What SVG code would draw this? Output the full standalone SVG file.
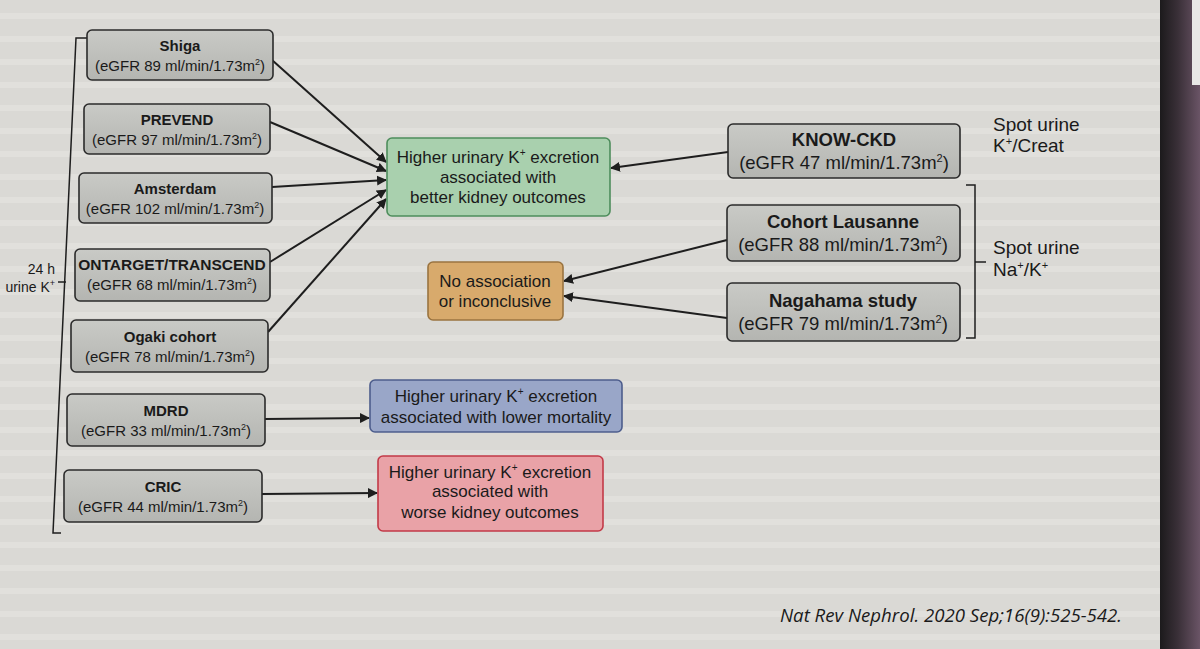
<svg xmlns="http://www.w3.org/2000/svg" width="1200" height="649" viewBox="0 0 1200 649">
<defs>
<style>
.t{font-family:"Liberation Sans",Arial,sans-serif;font-size:15px;fill:#1a1a1a;text-anchor:middle}
.o{font-size:17px}
.r{font-size:18.5px}
.b{font-weight:bold}
.l{font-family:"Liberation Sans",Arial,sans-serif;font-size:19px;fill:#1a1a1a}
.gray{fill:url(#gg);stroke:#2b2b2b;stroke-width:1.6}
.edge{stroke:#1e1e1e;stroke-width:2;fill:none;marker-end:url(#ah)}
.br{stroke:#1e1e1e;stroke-width:1.5;fill:none}
</style>
<linearGradient id="gg" x1="0" y1="0" x2="0" y2="1"><stop offset="0" stop-color="#c9cac6"/><stop offset="1" stop-color="#b4b5b1"/></linearGradient>
<linearGradient id="dark" x1="0" y1="0" x2="1" y2="0"><stop offset="0" stop-color="#1c1a1c"/><stop offset="0.45" stop-color="#3a3038"/><stop offset="1" stop-color="#6a5466"/></linearGradient>
<pattern id="stripes" width="20" height="23" patternUnits="userSpaceOnUse"><rect width="20" height="23" fill="#dad9d5"/><rect y="13" width="20" height="6" fill="#e1e0dc"/></pattern>
<marker id="ah" viewBox="0 0 10 10" refX="9" refY="5" markerWidth="5" markerHeight="5" orient="auto"><path d="M0,0 L10,5 L0,10 z" fill="#1e1e1e"/></marker>
</defs>
<rect width="1200" height="649" fill="url(#stripes)"/>
<rect x="1160" y="0" width="40" height="649" fill="url(#dark)"/>
<rect x="1192" y="0" width="8" height="85" fill="#e8e8e6"/>

<g id="bracket-left">
<path class="br" d="M88,38 L76,38 L53,533 L61,533"/>
<path class="br" d="M58,282 L66,282"/>
<text class="l" x="55" y="274" text-anchor="end" style="font-size:14px">24 h</text>
<text class="l" x="55" y="292" text-anchor="end" style="font-size:14px">urine K<tspan font-size="9" dy="-6">+</tspan></text>
</g>

<g id="connectors">
<line class="edge" x1="272" y1="60" x2="386" y2="162"/>
<line class="edge" x1="270" y1="122" x2="386" y2="171"/>
<line class="edge" x1="272" y1="187" x2="386" y2="180"/>
<line class="edge" x1="270" y1="262" x2="386" y2="190"/>
<line class="edge" x1="268" y1="332" x2="386" y2="199"/>
<line class="edge" x1="728" y1="152" x2="611" y2="168"/>
<line class="edge" x1="727" y1="240" x2="564" y2="281"/>
<line class="edge" x1="727" y1="318" x2="564" y2="296"/>
<line class="edge" x1="265" y1="419" x2="369" y2="418"/>
<line class="edge" x1="262" y1="494" x2="377" y2="493"/>
</g>

<g id="shiga">
<rect class="gray" x="87" y="30" width="186" height="50" rx="5"/>
<text class="t b" x="180" y="51">Shiga</text>
<text class="t" x="180" y="71">(eGFR 89 ml/min/1.73m<tspan font-size="9" dy="-6">2</tspan><tspan dy="6">)</tspan></text>
</g>
<g id="prevend">
<rect class="gray" x="84" y="104" width="186" height="50" rx="5"/>
<text class="t b" x="177" y="125">PREVEND</text>
<text class="t" x="177" y="145">(eGFR 97 ml/min/1.73m<tspan font-size="9" dy="-6">2</tspan><tspan dy="6">)</tspan></text>
</g>
<g id="amsterdam">
<rect class="gray" x="79" y="173" width="193" height="50" rx="5"/>
<text class="t b" x="175" y="194">Amsterdam</text>
<text class="t" x="175" y="214">(eGFR 102 ml/min/1.73m<tspan font-size="9" dy="-6">2</tspan><tspan dy="6">)</tspan></text>
</g>
<g id="ontarget">
<rect class="gray" x="75" y="249" width="195" height="52" rx="5"/>
<text class="t b" x="172" y="270" style="font-size:15.5px">ONTARGET/TRANSCEND</text>
<text class="t" x="172" y="290">(eGFR 68 ml/min/1.73m<tspan font-size="9" dy="-6">2</tspan><tspan dy="6">)</tspan></text>
</g>
<g id="ogaki">
<rect class="gray" x="71" y="320" width="197" height="52" rx="5"/>
<text class="t b" x="170" y="342">Ogaki cohort</text>
<text class="t" x="170" y="362">(eGFR 78 ml/min/1.73m<tspan font-size="9" dy="-6">2</tspan><tspan dy="6">)</tspan></text>
</g>
<g id="mdrd">
<rect class="gray" x="67" y="394" width="198" height="52" rx="5"/>
<text class="t b" x="166" y="416">MDRD</text>
<text class="t" x="166" y="436">(eGFR 33 ml/min/1.73m<tspan font-size="9" dy="-6">2</tspan><tspan dy="6">)</tspan></text>
</g>
<g id="cric">
<rect class="gray" x="64" y="470" width="198" height="52" rx="5"/>
<text class="t b" x="163" y="492">CRIC</text>
<text class="t" x="163" y="512">(eGFR 44 ml/min/1.73m<tspan font-size="9" dy="-6">2</tspan><tspan dy="6">)</tspan></text>
</g>

<g id="green">
<rect x="387" y="138" width="223" height="78" rx="5" fill="#a9d0ae" stroke="#4e8d5c" stroke-width="1.6"/>
<text class="t o" x="498" y="163">Higher urinary K<tspan font-size="10" dy="-7">+</tspan><tspan dy="7"> excretion</tspan></text>
<text class="t o" x="498" y="183">associated with</text>
<text class="t o" x="498" y="203">better kidney outcomes</text>
</g>
<g id="orange">
<rect x="428" y="262" width="135" height="58" rx="5" fill="#d8aa6c" stroke="#9a7440" stroke-width="1.6"/>
<text class="t o" x="495" y="287">No association</text>
<text class="t o" x="495" y="307">or inconclusive</text>
</g>
<g id="blue">
<rect x="370" y="380" width="252" height="52" rx="5" fill="#99a6c8" stroke="#4d5d8c" stroke-width="1.6"/>
<text class="t o" x="496" y="402">Higher urinary K<tspan font-size="10" dy="-7">+</tspan><tspan dy="7"> excretion</tspan></text>
<text class="t o" x="496" y="423">associated with lower mortality</text>
</g>
<g id="red">
<rect x="378" y="456" width="225" height="75" rx="5" fill="#e9a2a7" stroke="#c23a48" stroke-width="1.6"/>
<text class="t o" x="490" y="478">Higher urinary K<tspan font-size="10" dy="-7">+</tspan><tspan dy="7"> excretion</tspan></text>
<text class="t o" x="490" y="497">associated with</text>
<text class="t o" x="490" y="518">worse kidney outcomes</text>
</g>

<g id="knowckd">
<rect class="gray" x="728" y="124" width="232" height="54" rx="5"/>
<text class="t r b" x="844" y="146">KNOW-CKD</text>
<text class="t r" x="844" y="169">(eGFR 47 ml/min/1.73m<tspan font-size="11" dy="-7">2</tspan><tspan dy="7">)</tspan></text>
</g>
<g id="lausanne">
<rect class="gray" x="727" y="205" width="233" height="56" rx="5"/>
<text class="t r b" x="843" y="228">Cohort Lausanne</text>
<text class="t r" x="843" y="251">(eGFR 88 ml/min/1.73m<tspan font-size="11" dy="-7">2</tspan><tspan dy="7">)</tspan></text>
</g>
<g id="nagahama">
<rect class="gray" x="727" y="283" width="233" height="58" rx="5"/>
<text class="t r b" x="843" y="307">Nagahama study</text>
<text class="t r" x="843" y="330">(eGFR 79 ml/min/1.73m<tspan font-size="11" dy="-7">2</tspan><tspan dy="7">)</tspan></text>
</g>

<g id="bracket-right">
<path class="br" d="M966,185 L975,185 L975,338 L966,338"/>
<path class="br" d="M975,262 L986,262"/>
<text class="l" x="993" y="131">Spot urine</text>
<text class="l" x="993" y="152">K<tspan font-size="11" dy="-7">+</tspan><tspan dy="7">/Creat</tspan></text>
<text class="l" x="993" y="254">Spot urine</text>
<text class="l" x="993" y="276">Na<tspan font-size="11" dy="-7">+</tspan><tspan dy="7">/K</tspan><tspan font-size="11" dy="-7">+</tspan></text>
</g>

<text x="780" y="622" font-family="Open Sans, Liberation Sans, sans-serif" font-style="italic" font-size="17.5" fill="#1a1a1a" textLength="342" lengthAdjust="spacingAndGlyphs">Nat Rev Nephrol. 2020 Sep;16(9):525-542.</text>
</svg>
